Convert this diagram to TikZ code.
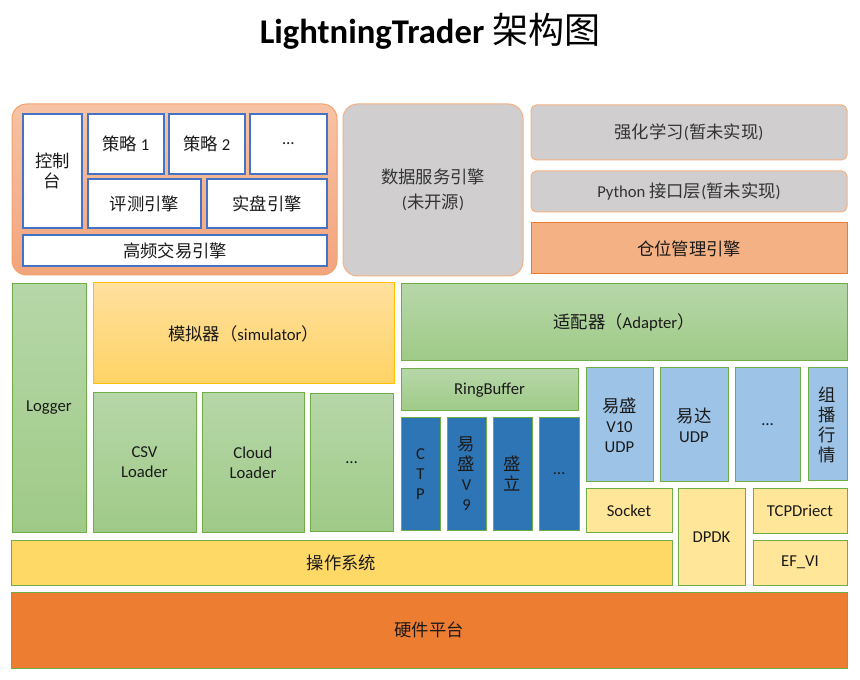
\documentclass[tikz,border=0pt]{standalone}
\usepackage{fontspec}
\setmainfont{Carlito}
\newfontfamily\cjk[Scale=1.04]{Noto Sans CJK SC}
\newcommand\zh[1]{{\cjk #1}}
\definecolor{obTop}{HTML}{F7C3A5}
\definecolor{obBot}{HTML}{F3A47C}
\definecolor{obLine}{HTML}{F1A26F}
\definecolor{wbLine}{HTML}{4472C4}
\definecolor{gray1}{HTML}{D0CECE}
\definecolor{gLine}{HTML}{F4B183}
\definecolor{posFill}{HTML}{F4B183}
\definecolor{posLine}{HTML}{ED7D31}
\definecolor{grTop}{HTML}{B6D7A8}
\definecolor{grBot}{HTML}{9FCA87}
\definecolor{grLine}{HTML}{70AD47}
\definecolor{yTop}{HTML}{FFE09E}
\definecolor{yBot}{HTML}{FFD365}
\definecolor{yLine}{HTML}{FFC000}
\definecolor{dBlue}{HTML}{2E75B6}
\definecolor{lBlue}{HTML}{9DC3E6}
\definecolor{lYel}{HTML}{FFE699}
\definecolor{osFill}{HTML}{FFD966}
\definecolor{hwFill}{HTML}{ED7D31}
\definecolor{txt}{HTML}{1A1A1A}
\definecolor{gtxt}{HTML}{333333}
\tikzset{
  box/.style={inner sep=0pt, outer sep=0pt, align=center, text=txt,
    font=\fontsize{12.5}{15}\selectfont, line width=0.75pt},
  ob/.style={box, rounded corners=11pt, top color=obTop, bottom color=obBot, draw=obLine},
  wb/.style={box, fill=white, draw=wbLine, line width=1.5pt},
  gbr/.style={box, rounded corners=11pt, fill=gray1, draw=gLine, text=gtxt},
  gb/.style={box, rounded corners=4pt, fill=gray1, draw=gLine, text=gtxt},
  posb/.style={box, fill=posFill, draw=posLine},
  grn/.style={box, top color=grTop, bottom color=grBot, draw=grLine},
  ylw/.style={box, top color=yTop, bottom color=yBot, draw=yLine},
  db/.style={box, fill=dBlue, draw=grLine},
  lb/.style={box, fill=lBlue, draw=grLine},
  ly/.style={box, fill=lYel, draw=grLine},
  osb/.style={box, fill=osFill, draw=grLine},
  hwb/.style={box, fill=hwFill, draw=grLine},
}
\newcommand\blk[7]{%
  \pgfmathsetmacro\bw{(#5-#3)*0.75}%
  \pgfmathsetmacro\bh{(#6-#4)*0.75}%
  \node[#1, minimum width=\bw pt, minimum height=\bh pt, anchor=north west] (#2) at (#3,#4) {#7};}
\begin{document}
\begin{tikzpicture}[x=0.75pt,y=-0.75pt]
\useasboundingbox (0,0) rectangle (860,680);
\node[anchor=base, font=\fontsize{26}{30}\selectfont, text=black] (title) at (430,44)
  {\textbf{LightningTrader} \zh{架构图}};
% top-left group
\blk{ob}{hft}{12}{104}{337}{275}{}
\blk{wb}{ctl}{23}{114}{82}{228}{\zh{控制}\\\zh{台}}
\blk{wb}{s1}{88}{114}{164}{174}{\zh{策略} 1}
\blk{wb}{s2}{169}{114}{245}{174}{\zh{策略} 2}
\blk{wb}{s3}{250}{114}{327}{174}{…}
\blk{wb}{bt}{88}{179}{201}{228}{\zh{评测引擎}}
\blk{wb}{live}{207}{179}{327}{228}{\zh{实盘引擎}}
\blk{wb}{hfe}{23}{235}{327}{266}{\zh{高频交易引擎}}
% top middle/right
\blk{gbr}{data}{343}{104}{523}{276}{\zh{数据服务引擎}\\[3.5pt](\zh{未开源})}
\blk{gb}{rl}{531}{105}{847}{160}{\zh{强化学习}(\zh{暂未实现})}
\blk{gb}{py}{531}{171}{847}{212}{Python \zh{接口层}(\zh{暂未实现})}
\blk{posb}{pm}{531}{223}{847}{274}{\zh{仓位管理引擎}}
% middle left
\blk{grn}{log}{12}{284}{86}{532}{Logger}
\blk{ylw}{sim}{93}{283}{394}{384}{\zh{模拟器（}simulator\zh{）}}
\blk{grn}{csv}{93}{393}{196}{532}{CSV\\Loader}
\blk{grn}{cloud}{202}{393}{304}{532}{Cloud\\Loader}
\blk{grn}{ld3}{310}{394}{393}{531}{…}
% middle right
\blk{grn}{adp}{401}{284}{847}{361}{\zh{适配器（}Adapter\zh{）}}
\blk{grn}{rb}{401}{369}{578}{411}{RingBuffer}
\blk{db}{ctp}{401}{418}{440}{530}{C\\T\\P}
\blk{db}{es9}{447}{418}{486}{530}{\zh{易}\\\zh{盛}\\V\\9}
\blk{db}{sl}{493}{418}{532}{530}{\zh{盛}\\\zh{立}}
\blk{db}{db4}{539}{418}{579}{530}{…}
\blk{lb}{es10}{586}{368}{653}{482}{\zh{易盛}\\V10\\UDP}
\blk{lb}{yd}{660}{368}{728}{482}{\zh{易达}\\UDP}
\blk{lb}{lb3}{735}{368}{800}{482}{…}
\blk{lb}{mc}{808}{368}{847}{481}{\zh{组}\\\zh{播}\\\zh{行}\\\zh{情}}
\blk{ly}{sock}{586}{489}{672}{532}{Socket}
\blk{ly}{dpdk}{678}{489}{745}{585}{DPDK}
\blk{ly}{tcpd}{753}{489}{847}{533}{TCPDriect}
\blk{ly}{efvi}{753}{540}{847}{585}{EF\_VI}
% bottom
\blk{osb}{os}{11}{540}{672}{585}{\zh{操作系统}}
\blk{hwb}{hw}{11}{592}{847}{668}{\zh{硬件平台}}
\end{tikzpicture}
\end{document}
